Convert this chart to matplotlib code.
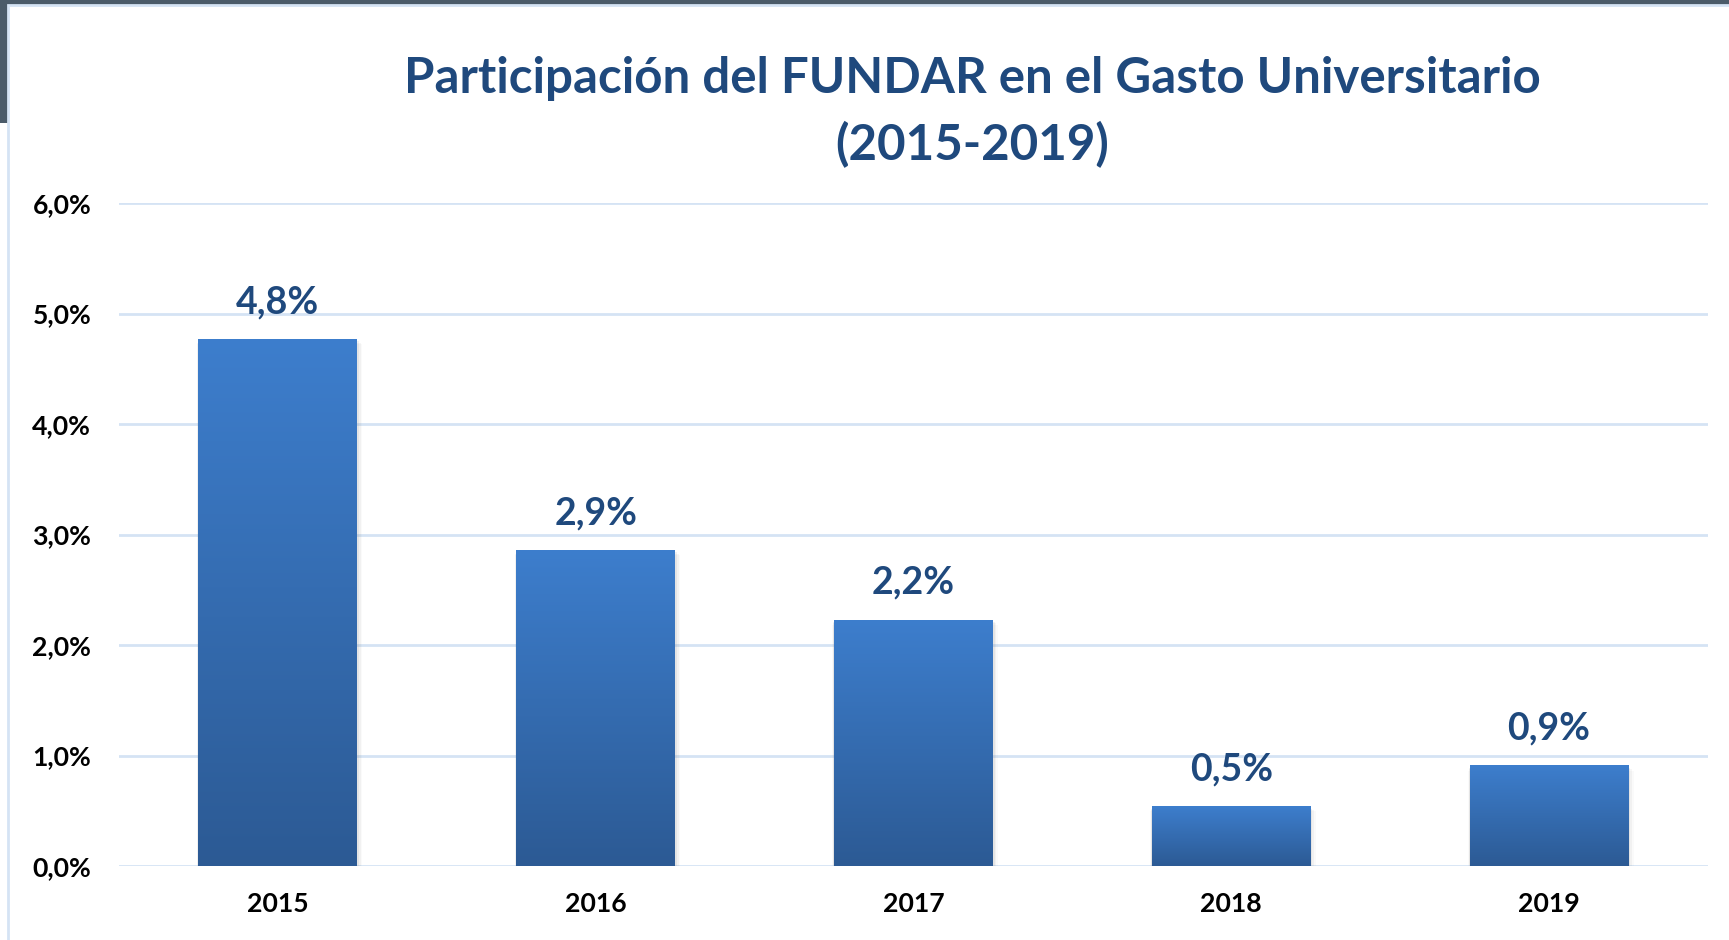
import numpy as np
import matplotlib
matplotlib.use('Agg')
import matplotlib.pyplot as plt
from matplotlib.patches import Rectangle
from matplotlib.colors import LinearSegmentedColormap

# data
years = ['2015', '2016', '2017', '2018', '2019']
shares = [4.77, 2.86, 2.23, 0.54, 0.91]
yticks = [0, 1, 2, 3, 4, 5, 6]

title = 'Participación del FUNDAR en el Gasto Universitario\n(2015-2019)'
dark_blue = '#1F497D'
grid_col = '#D5E3F4'

plt.rcParams['font.family'] = ['Lato', 'DejaVu Sans']

fig = plt.figure(figsize=(17.29, 9.40), dpi=100)
fig.patch.set_facecolor('white')

# screenshot frame: dark strip on top / left, thin light-blue border
fig.add_artist(Rectangle((0, 1 - 5 / 940), 1, 5 / 940, transform=fig.transFigure,
                         facecolor='#4B5B69', edgecolor='none'))
fig.add_artist(Rectangle((0, 1 - 123 / 940), 8 / 1729, 123 / 940, transform=fig.transFigure,
                         facecolor='#4B5B69', edgecolor='none'))
fig.add_artist(Rectangle((8 / 1729, -0.01), 1.2, 1 - 5 / 940 + 0.01, transform=fig.transFigure,
                         facecolor='none', edgecolor=grid_col, linewidth=2))

ax = fig.add_axes([119 / 1729, 1 - 866 / 940, (1708 - 119) / 1729, (866 - 203) / 940])
ax.set_xlim(-0.5, len(years) - 0.5)
ax.set_ylim(0, 6)

for s in ax.spines.values():
    s.set_visible(False)
ax.set_yticks(yticks)
ax.set_yticklabels([f'{v:.1f}%'.replace('.', ',') for v in yticks])
ax.yaxis.grid(True, color=grid_col, linewidth=2)
ax.set_axisbelow(True)
ax.tick_params(axis='both', length=0, labelsize=19.2)
ax.tick_params(axis='y', pad=20)
ax.tick_params(axis='x', pad=19)
for lab in ax.get_yticklabels() + ax.get_xticklabels():
    lab.set_fontweight('bold')
    lab.set_color('black')

x = np.arange(len(years))
bars = ax.bar(x, shares, width=0.5, color='none', edgecolor='none', zorder=3)
ax.set_xticks(x)
ax.set_xticklabels(years)

grad = LinearSegmentedColormap.from_list('bar', ['#2C5A94', '#3D7ECD'])
gimg = np.linspace(0, 1, 256).reshape(-1, 1)
for b, v in zip(bars, shares):
    x0, w, h = b.get_x(), b.get_width(), b.get_height()
    # soft shadow
    for k, a in enumerate([0.10, 0.07, 0.04]):
        d = 0.006 * (k + 1)
        ax.add_patch(Rectangle((x0 - d * 0.3, -0.03 - d * 2), w + d * 1.2, h + 0.02,
                               facecolor='gray', edgecolor='none', alpha=a, zorder=2))
    im = ax.imshow(gimg, extent=[x0, x0 + w, 0, h], origin='lower', cmap=grad,
                   aspect='auto', zorder=3)
    im.set_clip_path(b)
    ax.text(b.get_x() + w / 2, h + 0.18, f'{v:.1f}%'.replace('.', ','),
            ha='center', va='bottom', fontsize=27, fontweight='bold', color=dark_blue, zorder=4)

ax.set_xlim(-0.5, len(years) - 0.5)
ax.set_ylim(0, 6)

fig.text(972 / 1729, 1 - 112 / 940, title, ha='center', va='center', fontsize=35.5,
         fontweight='bold', color=dark_blue, linespacing=1.52)

fig.savefig('out.png', dpi=100, facecolor='white')
